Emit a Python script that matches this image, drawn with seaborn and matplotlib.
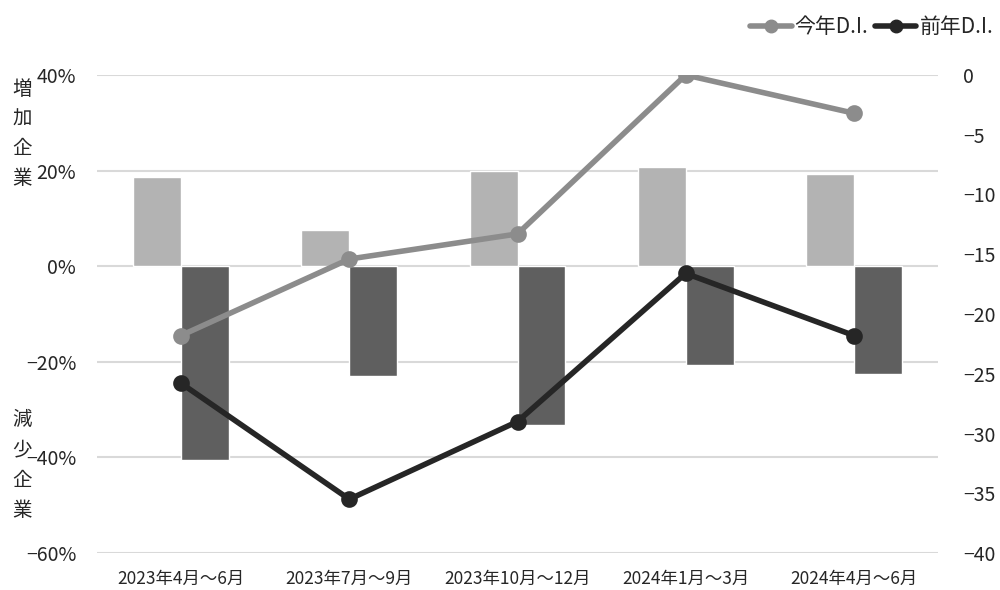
import numpy as np
import pandas as pd
import matplotlib
matplotlib.use('Agg')
import matplotlib.pyplot as plt
from matplotlib.lines import Line2D
import seaborn as sns

# ==================================
# Data
quarters = ['2023年4月～6月', '2023年7月～9月', '2023年10月～12月', '2024年1月～3月', '2024年4月～6月']
inc_share = [18.6, 7.5, 19.9, 20.7, 19.2]          # 増加企業 (%)
dec_share = [-40.6, -23.0, -33.3, -20.7, -22.6]    # 減少企業 (%)
di_this_year = [-21.8, -15.4, -13.3, 0.0, -3.2]    # 今年D.I.
di_last_year = [-25.8, -35.5, -29.0, -16.6, -21.8] # 前年D.I.

sns.set_theme(style='white')
plt.rcParams['font.family'] = ['Noto Sans CJK JP', 'DejaVu Sans']
plt.rcParams['axes.unicode_minus'] = True

bar_df = pd.DataFrame({
    'quarter': quarters * 2,
    'share': inc_share + dec_share,
    'kind': ['増加'] * len(quarters) + ['減少'] * len(quarters),
})
di_df = pd.DataFrame({'quarter': quarters, 'this': di_this_year, 'last': di_last_year})

fig = plt.figure(figsize=(10, 5.9), dpi=100)
ax = fig.add_axes([0.097, 0.0627, 0.841, 0.8102])

sns.barplot(data=bar_df, x='quarter', y='share', hue='kind', order=quarters,
            hue_order=['増加', '減少'], palette=['#b3b3b3', '#5f5f5f'],
            width=0.57, saturation=1, legend=False, ax=ax)

ax.set_ylim(-60, 40)
ax.set_yticks(np.arange(-60, 41, 20))
ax.set_yticklabels([f'{v}%'.replace('-', '\u2212') for v in range(-60, 41, 20)], fontsize=14)
ax.yaxis.grid(True, color='#d9d9d9', linewidth=1.5)
ax.set_axisbelow(True)
ax.set_xlabel('')
ax.set_ylabel('')
ax.tick_params(axis='x', labelsize=12.5, length=0, pad=12)
ax.tick_params(axis='y', length=0, pad=15)
sns.despine(ax=ax, left=True, bottom=True)

# right axis: D.I. lines
ax2 = ax.twinx()
sns.pointplot(data=di_df, x='quarter', y='this', order=quarters, color='#8c8c8c',
              markers='o', markersize=9, linewidth=4, ax=ax2)
sns.pointplot(data=di_df, x='quarter', y='last', order=quarters, color='#262626',
              markers='o', markersize=9, linewidth=4, ax=ax2)
ax2.set_ylim(-40, 0)
ax2.set_yticks(np.arange(-40, 1, 5))
ax2.set_yticklabels([str(v).replace('-', '\u2212') for v in range(-40, 1, 5)], fontsize=14)
ax2.tick_params(axis='y', length=0, pad=18)
ax2.set_ylabel('')
ax2.set_xlabel('')
ax2.grid(False)
sns.despine(ax=ax2, left=True, bottom=True, right=True)
ax.set_xlim(-0.5, len(quarters) - 0.5)

# vertical side labels
fig.text(0.022, 0.773, '\n'.join('増加企業'), fontsize=14, ha='center', va='center', linespacing=1.55)
fig.text(0.022, 0.212, '\n'.join('減少企業'), fontsize=14, ha='center', va='center', linespacing=1.6)

# legend
handles = [Line2D([], [], color='#8c8c8c', lw=4, marker='o', ms=9),
           Line2D([], [], color='#262626', lw=4, marker='o', ms=9)]
fig.legend(handles, ['今年D.I.', '前年D.I.'], loc='upper right', bbox_to_anchor=(1.012, 1.005),
           ncol=2, frameon=False, fontsize=15, handlelength=2.0, handletextpad=0.15,
           columnspacing=0.3)

plt.savefig('out.png', dpi=100, facecolor='white')
